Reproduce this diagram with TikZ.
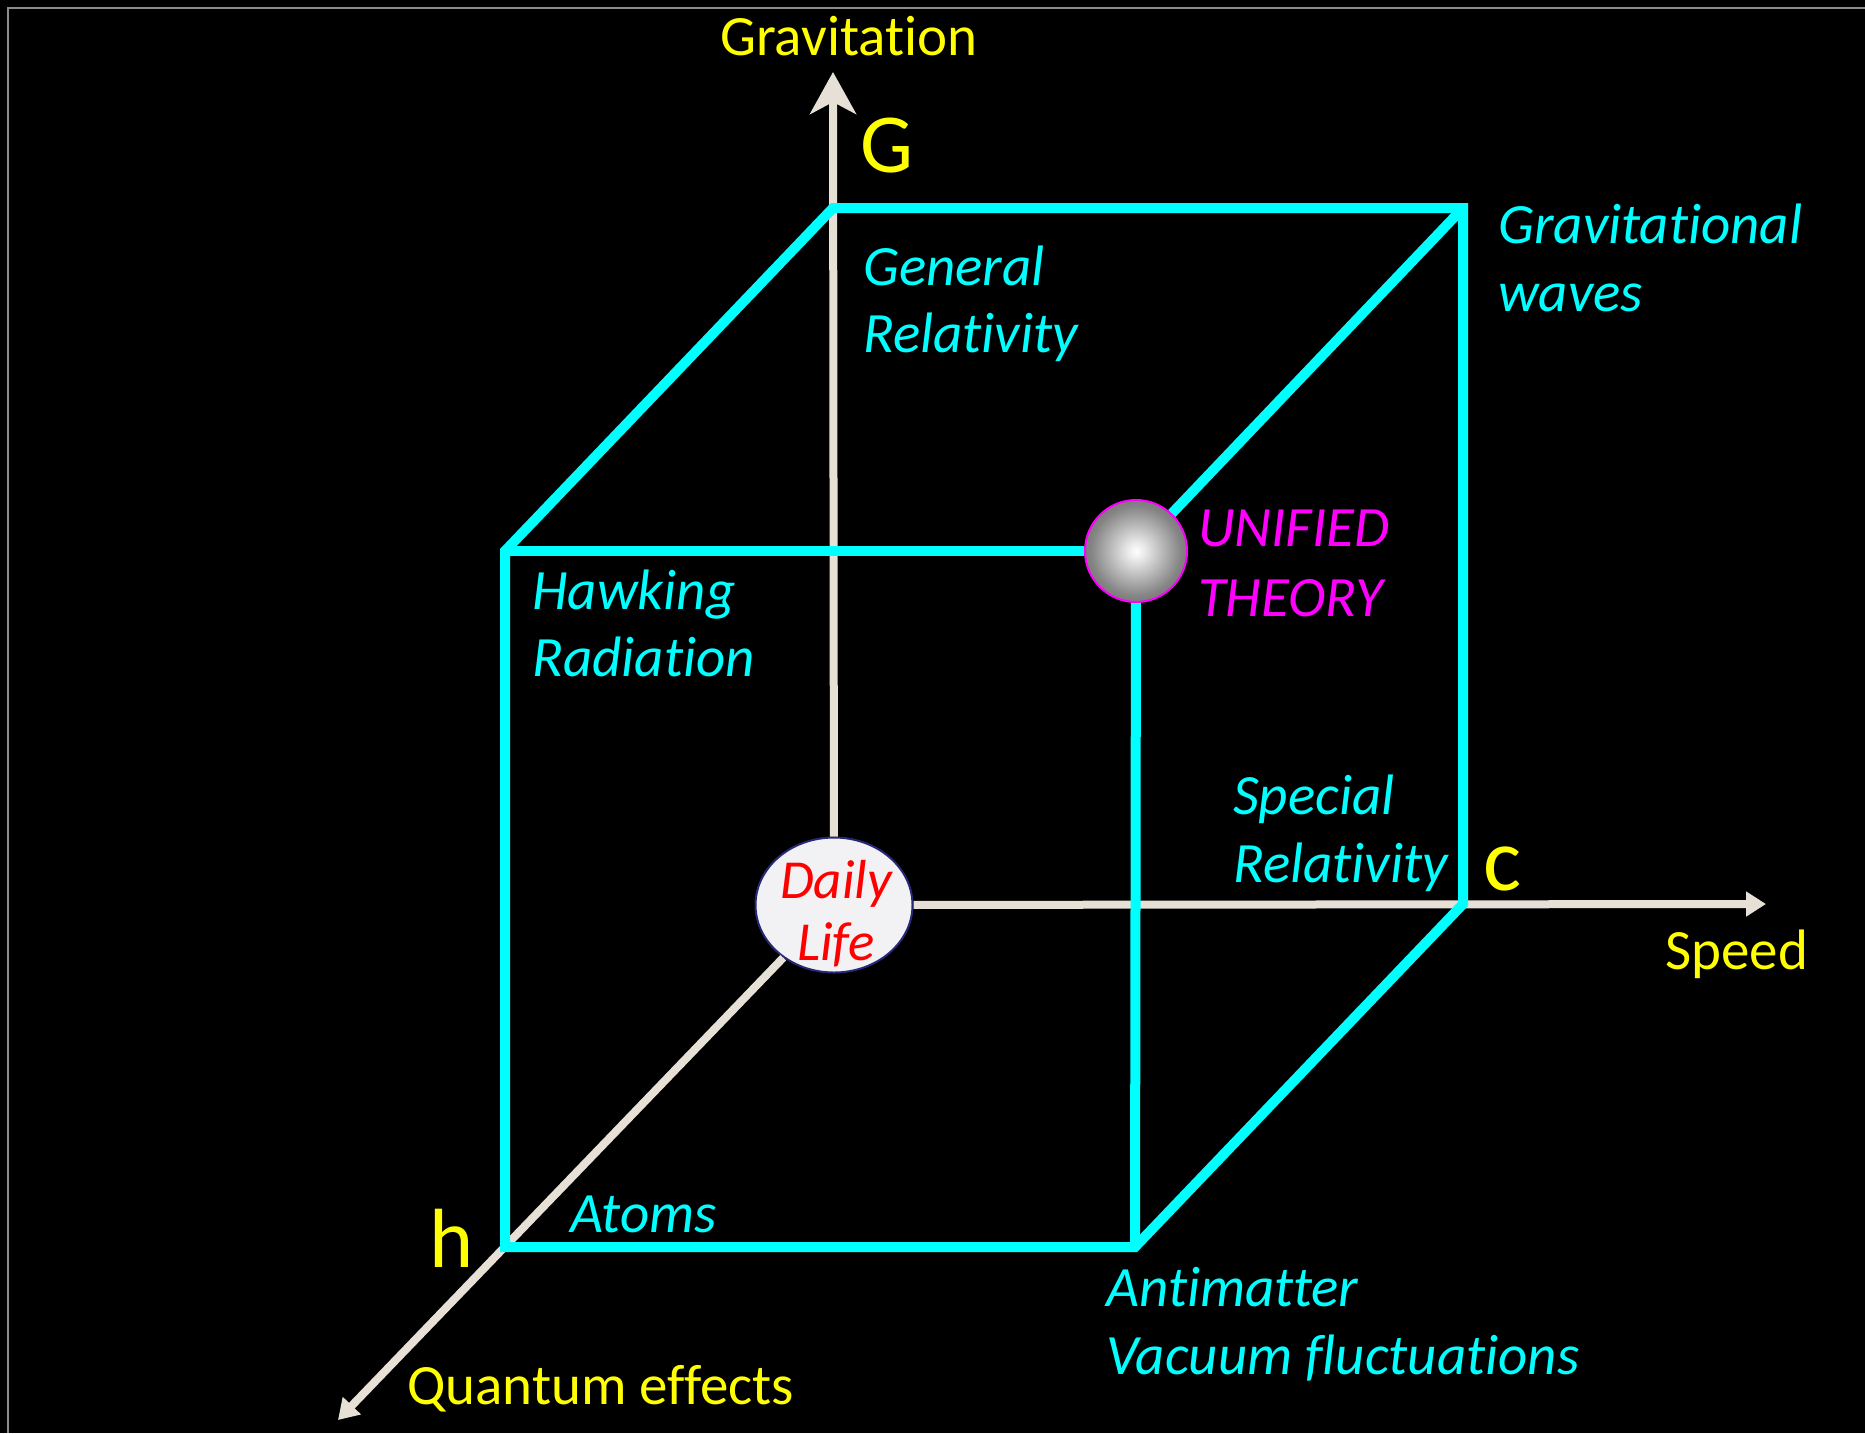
\documentclass[tikz,border=0pt]{standalone}
\usepackage{fontspec}
\setmainfont{Carlito}[Ligatures=NoCommon]
\usetikzlibrary{arrows.meta,shapes.geometric}
\definecolor{axiscol}{RGB}{230,224,214}
\definecolor{cubecol}{RGB}{0,255,255}
\definecolor{labyellow}{RGB}{255,255,0}
\definecolor{labmag}{RGB}{255,0,255}
\definecolor{labred}{RGB}{255,0,0}
\definecolor{framecol}{RGB}{140,140,140}
\definecolor{ellfill}{RGB}{242,242,244}
\definecolor{ellline}{RGB}{40,40,120}
\pgfdeclareradialshading{sphshade}{\pgfpoint{0bp}{0bp}}{color(0bp)=(white); color(4bp)=(white!92!black); color(22bp)=(black!48); color(50bp)=(black!80)}
\begin{document}
\begin{tikzpicture}[x=1pt,y=-1pt,
  lab/.style={anchor=base west, inner sep=0pt, font=\fontsize{57}{67}\selectfont\itshape, text=cubecol},
  axlab/.style={anchor=base west, inner sep=0pt, font=\fontsize{57}{67}\selectfont, text=labyellow},
  biglab/.style={anchor=base west, inner sep=0pt, font=\fontsize{84}{90}\selectfont, text=labyellow},
  dlab/.style={anchor=base, inner sep=0pt, font=\fontsize{55}{62}\selectfont\itshape, text=labred},
  axisline/.style={draw=axiscol, line width=8pt},
  cubeline/.style={draw=cubecol, line width=10pt, line join=miter},
  smalltip/.style={-{Triangle[length=20pt,width=24pt]}},
  bigtip/.style={-{Stealth[length=42pt,width=46pt,inset=12pt]}}]
\fill[black] (0,0) rectangle (1865,1433);
\useasboundingbox (0,0) rectangle (1865,1433);
\draw[framecol, line width=2.5pt] (1865,8) -- (8,8) -- (8,1433);
% coordinates
\coordinate (gtip) at (833,72);
\coordinate (ctip) at (1766,904);
\coordinate (htip) at (338,1420);
\coordinate (B) at (1463,904);
\coordinate (C) at (1463,208);
\coordinate (D) at (833,208);
\coordinate (E) at (505,1247);
\coordinate (F) at (1135,1247);
\coordinate (H) at (505,551);
% daily life ellipse
\node[ellipse, minimum width=157pt, minimum height=135pt, inner sep=0pt, fill=ellfill, draw=ellline, line width=2pt] (daily) at (834,905) {};
% axes
\draw[axisline, bigtip] (daily) -- (gtip);
\draw[axisline, smalltip] (daily) -- (ctip);
\draw[axisline, smalltip] (daily) -- (htip);
% sphere
\node[circle, minimum size=102pt, inner sep=0pt, draw=labmag, line width=2pt, shade, shading=sphshade] (uni) at (1136,551) {};
% cube
\draw[cubeline] (H) -- (D) -- (C) -- (B) -- (F) -- (E) -- cycle;
\draw[cubeline] (H) -- (uni);
\draw[cubeline] (C) -- (uni);
\draw[cubeline] (F) -- (uni);
% labels
\node[axlab] (gravlab) at (720,55) {Gravitation};
\node[biglab] (Glab) at (860,172) {G};
\node[lab] (gr1) at (863,285) {General};
\node[lab] (gr2) at (863,352) {Relativity};
\node[lab] (gw1) at (1498,243) {Gravitational};
\node[lab] (gw2) at (1498,311) {waves};
\node[lab, text=labmag] (ut1) at (1198,546) {UNIFIED};
\node[lab, text=labmag] (ut2) at (1198,616) {THEORY};
\node[lab] (hr1) at (532,609) {Hawking};
\node[lab] (hr2) at (532,676) {Radiation};
\node[lab] (sr1) at (1233,814) {Special};
\node[lab] (sr2) at (1233,882) {Relativity};
\node[biglab, font=\fontsize{90}{96}\selectfont] (clab) at (1483,890) {c};
\node[axlab] (speedlab) at (1665,969) {Speed};
\node[lab] (atoms) at (570,1232) {Atoms};
\node[biglab] (hlab) at (429,1267) {h};
\node[lab] (am1) at (1106,1306) {Antimatter};
\node[lab] (am2) at (1106,1374) {Vacuum fluctuations};
\node[axlab] (qlab) at (407,1404) {Quantum effects};
\node[dlab] (dl1) at (836,898) {Daily};
\node[dlab] (dl2) at (836,960) {Life};
\end{tikzpicture}
\end{document}
